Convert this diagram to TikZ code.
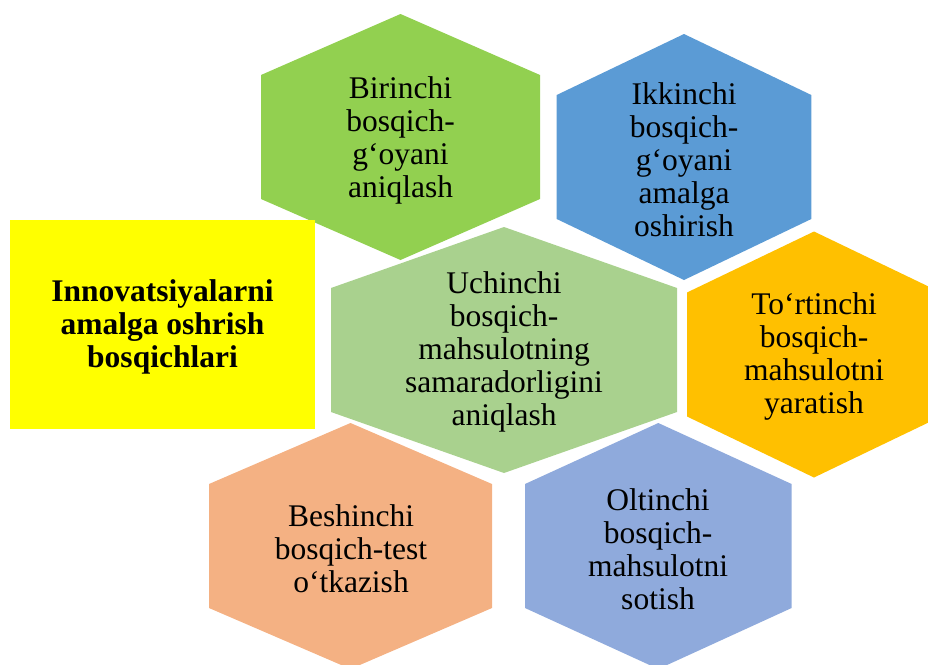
\documentclass[tikz,border=0pt]{standalone}
\usepackage{fontspec}
\setmainfont{Liberation Serif}
\usepackage{tikz}

\definecolor{stageone}{HTML}{92D050}
\definecolor{stagetwo}{HTML}{5B9BD5}
\definecolor{stagethree}{HTML}{A9D18E}
\definecolor{stagefour}{HTML}{FFC000}
\definecolor{stagefive}{HTML}{F4B183}
\definecolor{stagesix}{HTML}{8FAADC}
\definecolor{titlebox}{RGB}{255,255,0}

\begin{document}
\begin{tikzpicture}[x=1pt,y=-1pt]

%Define hexagon parameters
\def\hh{123}          %Half height of a hexagon.
\def\hs{62}           %Half length of the upright sides.
\def\hexa#1#2#3#4{\fill[#4] (#1,#2-\hh) -- (#1-#3,#2-\hs) -- (#1-#3,#2+\hs)
  -- (#1,#2+\hh) -- (#1+#3,#2+\hs) -- (#1+#3,#2-\hs) -- cycle;}

\tikzset{stagetext/.style={align=center,font=\fontsize{31.5}{33}\selectfont,inner sep=0pt}}

\useasboundingbox (0,0) rectangle (928,664);

% Hexagons: centre x, centre y, half width, colour
\hexa{400.5}{137}{139.5}{stageone}
\hexa{684}{157}{127.3}{stagetwo}
\hexa{504}{350}{173}{stagethree}
\hexa{814}{354.5}{127}{stagefour}
\hexa{350.5}{546}{141.5}{stagefive}
\hexa{658.3}{546}{133.3}{stagesix}

% Title box
\fill[titlebox] (10,220) rectangle (315,429);

% Stage labels
\node[stagetext] (first) at (400.5,140) {Birinchi\\bosqich-\\g‘oyani\\aniqlash};
\node[stagetext] (second) at (684,160) {Ikkinchi\\bosqich-\\g‘oyani\\amalga\\oshirish};
\node[stagetext] (third) at (504,352) {Uchinchi\\bosqich-\\mahsulotning\\samaradorligini\\aniqlash};
\node[stagetext] (fourth) at (814,356) {To‘rtinchi\\bosqich-\\mahsulotni\\yaratish};
\node[stagetext] (fifth) at (351,549) {Beshinchi\\bosqich-test\\o‘tkazish};
\node[stagetext] (sixth) at (658,549) {Oltinchi\\bosqich-\\mahsulotni\\sotish};
\node[stagetext,font=\fontsize{31.5}{33}\selectfont\bfseries] (title) at (162.5,327) {Innovatsiyalarni\\amalga oshrish\\bosqichlari};

\end{tikzpicture}
\end{document}
